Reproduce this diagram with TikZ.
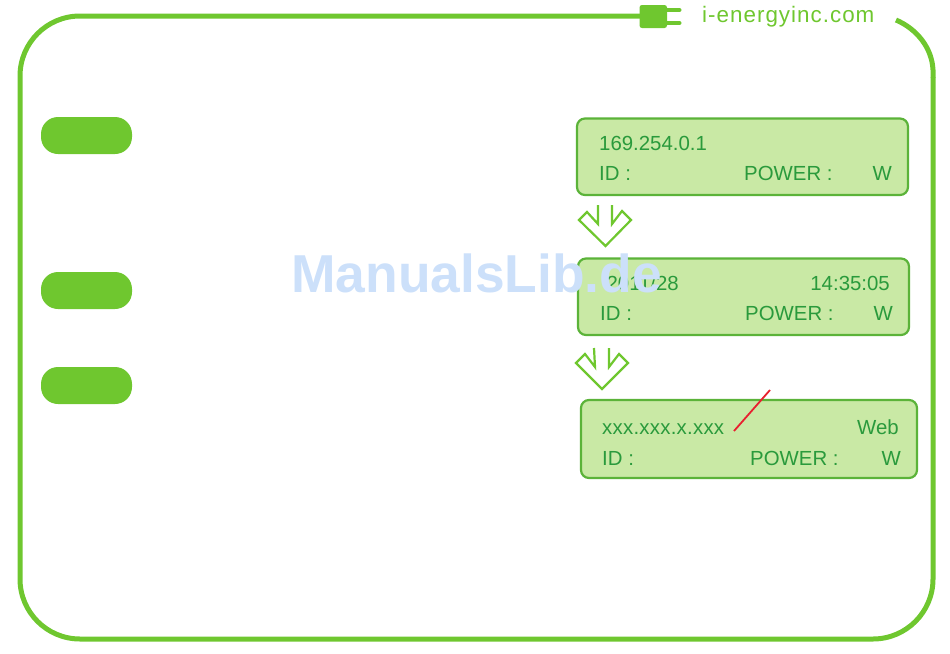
\documentclass[tikz,border=0pt]{standalone}
\usepackage{fontspec}
\setmainfont{Liberation Sans}
\newfontfamily\lcdfont{Liberation Sans}
\newfontfamily\lcdwide[LetterSpace=1.2]{Liberation Sans}
\newfontfamily\sitefont[LetterSpace=4.5]{Liberation Sans}
\definecolor{lime}{HTML}{6FC72F}
\definecolor{lcdfill}{HTML}{C9E9A5}
\definecolor{lcdedge}{HTML}{5BB339}
\definecolor{lcdtext}{HTML}{2A9A3C}
\definecolor{wm}{HTML}{CCE0FA}
\definecolor{slash}{HTML}{E8202F}
\tikzset{
  lcdbox/.style={draw=lcdedge,fill=lcdfill,line width=2.2pt,rounded corners=8pt},
  pill/.style={fill=lime,rounded corners=17pt},
  lcdlabel/.style={text=lcdtext,font=\lcdfont\fontsize{20.4}{22}\selectfont,inner sep=0pt,anchor=base west},
  lcdlabelr/.style={text=lcdtext,font=\lcdfont\fontsize{20.4}{22}\selectfont,inner sep=0pt,anchor=base east},
  downarrow/.style={draw=lime,line width=2.2pt,miter limit=10},
}
\begin{document}
\begin{tikzpicture}[x=1pt,y=-1pt]
\useasboundingbox (0,0) rectangle (950,653);
% frame
\draw[lime,line width=5pt,rounded corners=60pt] (645,16) -- (20,16) -- (20,639) -- (933,639) -- (933,77);
\draw[lime,line width=5pt] (933,77.5) -- (933,70) .. controls (932,48) and (917,29) .. (896,20);
% plug
\fill[lime,rounded corners=2.5pt] (639.5,5) rectangle (667,28);
\draw[lime,line width=4pt,line cap=round] (665,10) -- (679.5,10);
\draw[lime,line width=4pt,line cap=round] (665,23) -- (679.5,23);
\node[text=lime,font=\sitefont\fontsize{22.4}{24}\selectfont,inner sep=0pt,anchor=base west] (site) at (702,23) {i-energyinc.com};
% pills
\path[pill] (41,117) rectangle (132,154);
\path[pill] (41,272) rectangle (132,309);
\path[pill] (41,367) rectangle (132,404);
% boxes
\draw[lcdbox] (577,118.5) rectangle (908,195);
\draw[lcdbox] (578,258.5) rectangle (909,335);
\draw[lcdbox] (581,400) rectangle (917,478);
% arrows
\draw[downarrow] (598,205) -- (598,224) -- (587,212) -- (579,220) -- (605.5,246) -- (631,220) -- (622,211) -- (612,224) -- (612,205);
\draw[downarrow] (594,348) -- (595,367) -- (585,354) -- (576,363) -- (602,389) -- (628,363) -- (619,354) -- (609,367) -- (609,348);
% texts box 1
\node[lcdlabel] (a1) at (599,150) {169.254.0.1};
\node[lcdlabel] (a2) at (599,180.5) {ID :};
\node[lcdlabel] (a3) at (744,180.5) {POWER :};
\node[lcdlabelr] (a4) at (892,180.5) {W};
% box 2
\node[lcdlabelr] (b1) at (679,290) {2011/28};
\node[lcdlabelr] (b2) at (890,290) {14:35:05};
\node[lcdlabel] (b3) at (600,320.5) {ID :};
\node[lcdlabel] (b4) at (745,320.5) {POWER :};
\node[lcdlabelr] (b5) at (893,320.5) {W};
% box 3
\node[lcdlabel,font=\lcdwide\fontsize{20.4}{22}\selectfont] (c1) at (602,434) {xxx.xxx.x.xxx};
\node[lcdlabelr] (c2) at (899,434) {Web};
\node[lcdlabel] (c3) at (602,465) {ID :};
\node[lcdlabel] (c4) at (750,465) {POWER :};
\node[lcdlabelr] (c5) at (901,465) {W};
% red slash
\coordinate (r1) at (734,431);
\coordinate (r2) at (770,390);
\draw[slash,line width=1.8pt] (r1) -- (r2);
% watermark
\node[text=wm,font=\fontsize{53.4}{60}\selectfont\bfseries,inner sep=0pt,anchor=base west] (mark) at (291,292) {ManualsLib.de};
\end{tikzpicture}
\end{document}
